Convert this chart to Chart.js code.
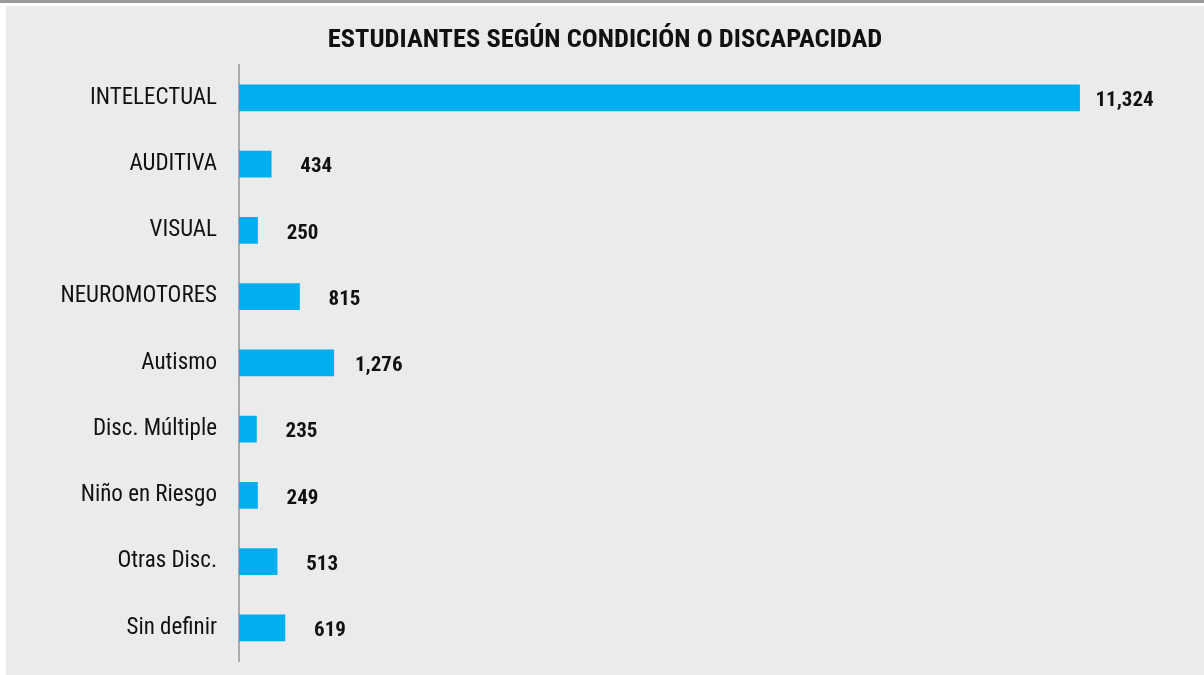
<!DOCTYPE html>
<html>
<head>
<meta charset="utf-8">
<style>
  html, body { margin: 0; padding: 0; background: #fff; }
  #topline { position: absolute; left: 0; top: 0; width: 1204px; height: 3px; background: #9a9a9a; }
  #panel { position: absolute; left: 6px; top: 6px; width: 1198px; height: 669px; background: #ebebeb; }
</style>
<script src="https://cdn.jsdelivr.net/npm/chart.js@4/dist/chart.umd.min.js"></script>
</head>
<body>
<div id="topline"></div>
<div id="panel"><canvas id="chart" width="1198" height="669"></canvas></div>
<script>
// Data ------------------------------------------------------------------
var categories = ["INTELECTUAL", "AUDITIVA", "VISUAL", "NEUROMOTORES", "Autismo",
                  "Disc. Múltiple", "Niño en Riesgo", "Otras Disc.", "Sin definir"];
var students = [11324, 434, 250, 815, 1276, 235, 249, 513, 619];
var chartTitle = "ESTUDIANTES SEGÚN CONDICIÓN O DISCAPACIDAD";

var FONT = "'Roboto Condensed', 'Open Sans', sans-serif";
var BAR = "#00aeef";

// value labels to the right of each bar
var valueLabels = {
  id: "valueLabels",
  afterDatasetsDraw: function (chart) {
    var ctx = chart.ctx;
    var meta = chart.getDatasetMeta(0);
    ctx.save();
    ctx.font = "bold 21px " + FONT;
    ctx.fillStyle = "#111";
    ctx.textAlign = "center";
    ctx.textBaseline = "middle";
    meta.data.forEach(function (bar, i) {
      ctx.fillText(students[i].toLocaleString("en-US"), bar.x + 45, bar.y + 3);
    });
    ctx.restore();
  }
};

new Chart(document.getElementById("chart"), {
  type: "bar",
  data: {
    labels: categories,
    datasets: [{ data: students, backgroundColor: BAR, barThickness: 26 }]
  },
  options: {
    indexAxis: "y",
    responsive: false,
    animation: false,
    layout: { padding: { left: 0, right: 0, top: 0, bottom: 14 } },
    plugins: {
      legend: { display: false },
      tooltip: { enabled: false },
      title: {
        display: true,
        text: chartTitle,
        color: "#111",
        font: { family: FONT, size: 26.5, weight: "bold", lineHeight: 1.2 },
        padding: { top: 18, bottom: 9 }
      }
    },
    scales: {
      x: { display: false, min: 0, max: 13000 },
      y: {
        // fixed label column; don't let the tick labels eat vertical space
        afterFit: function (s) { s.width = 233; s.paddingTop = 0; s.paddingBottom = 0; },
        grid: { display: false, drawTicks: false },
        border: { display: true, color: "#ababab", width: 2 },
        ticks: { color: "#111", padding: 22, font: { family: FONT, size: 23 } }
      }
    }
  },
  plugins: [valueLabels]
});
</script>
</body>
</html>
